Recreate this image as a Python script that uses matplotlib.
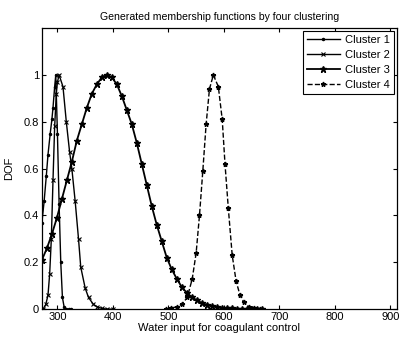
import matplotlib
matplotlib.use("Agg")
import matplotlib.pyplot as plt

plt.rcParams['font.family'] = ['Liberation Sans', 'DejaVu Sans']

# cluster 1
c1_x = [272, 276, 280, 283, 287, 290, 292, 295, 297, 300, 303, 306, 309, 312, 316, 320, 325]
c1_y = [0.37, 0.46, 0.57, 0.66, 0.75, 0.81, 0.86, 0.95, 1.0, 0.75, 0.45, 0.20, 0.05, 0.01, 0.0, 0.0, 0.0]

# cluster 2
c2_x = [274, 279, 283, 286, 289, 292, 295, 298, 300, 303, 310, 316, 322, 326, 332, 338, 342,
        350, 356, 365, 372, 380, 390, 400]
c2_y = [0.0, 0.02, 0.06, 0.15, 0.30, 0.55, 0.78, 0.92, 0.97, 1.0, 0.95, 0.80, 0.67, 0.60, 0.46,
        0.30, 0.18, 0.09, 0.05, 0.02, 0.01, 0.003, 0.0, 0.0]

# cluster 3
c3_x = [272, 281, 290, 299, 308, 317, 326, 335, 344, 353, 362, 371, 380, 389, 398, 407, 416,
        425, 434, 443, 452, 461, 470, 479, 488, 497, 506, 515, 524, 533, 542, 551, 560, 569,
        578, 587, 596, 605, 614, 623, 632, 641, 650, 659, 668]
c3_y = [0.21, 0.26, 0.32, 0.39, 0.47, 0.55, 0.63, 0.72, 0.79, 0.86, 0.92, 0.96, 0.99, 1.0,
        0.99, 0.96, 0.91, 0.85, 0.79, 0.71, 0.62, 0.53, 0.44, 0.36, 0.29, 0.22, 0.17, 0.13,
        0.095, 0.07, 0.052, 0.038, 0.027, 0.019, 0.013, 0.009, 0.006, 0.004, 0.003, 0.002,
        0.001, 0.001, 0.0, 0.0, 0.0]

# cluster 4
c4_x = [495, 505, 515, 524, 534, 543, 550, 556, 562, 568, 574, 581, 590, 597, 602, 608, 615,
        622, 629, 636, 645, 655, 665]
c4_y = [0.0, 0.005, 0.01, 0.02, 0.05, 0.13, 0.24, 0.40, 0.59, 0.79, 0.94, 1.0, 0.95, 0.81,
        0.62, 0.43, 0.23, 0.12, 0.06, 0.03, 0.01, 0.003, 0.0]

fig = plt.figure(figsize=(3.99, 3.39), dpi=100)
ax = fig.add_axes([0.105, 0.088, 0.89, 0.829])

ax.plot(c1_x, c1_y, color='black', linewidth=1.0, marker='.', markersize=3, label='Cluster 1')
ax.plot(c2_x, c2_y, color='black', linewidth=1.0, marker='x', markersize=3, markeredgewidth=0.8,
        label='Cluster 2')
ax.plot(c3_x, c3_y, color='black', linewidth=1.3, marker='*', markersize=5, label='Cluster 3')
ax.plot(c4_x, c4_y, color='black', linewidth=1.0, linestyle='--', marker='*', markersize=3.5,
        label='Cluster 4')

ax.set_xlim(272, 912)
ax.set_ylim(0, 1.2)
ax.set_xticks([300, 400, 500, 600, 700, 800, 900])
ax.set_yticks([0, 0.2, 0.4, 0.6, 0.8, 1.0])
ax.set_yticklabels(['0', '0.2', '0.4', '0.6', '0.8', '1'])
ax.tick_params(direction='in', top=True, right=True, labelsize=8, length=3, width=0.8, pad=2)
for s in ax.spines.values():
    s.set_linewidth(0.9)

ax.set_title('Generated membership functions by four clustering', fontsize=7.6, pad=6)
ax.set_xlabel('Water input for coagulant control', fontsize=8, labelpad=1)
ax.set_ylabel('DOF', fontsize=8, labelpad=7)

leg = ax.legend(loc='upper right', fontsize=8, handlelength=3.0, fancybox=False,
                edgecolor='black', framealpha=1, borderaxespad=0.25, labelspacing=0.45,
                handletextpad=0.5, borderpad=0.35)
leg.get_frame().set_linewidth(0.8)

fig.savefig('out.png', dpi=100)
